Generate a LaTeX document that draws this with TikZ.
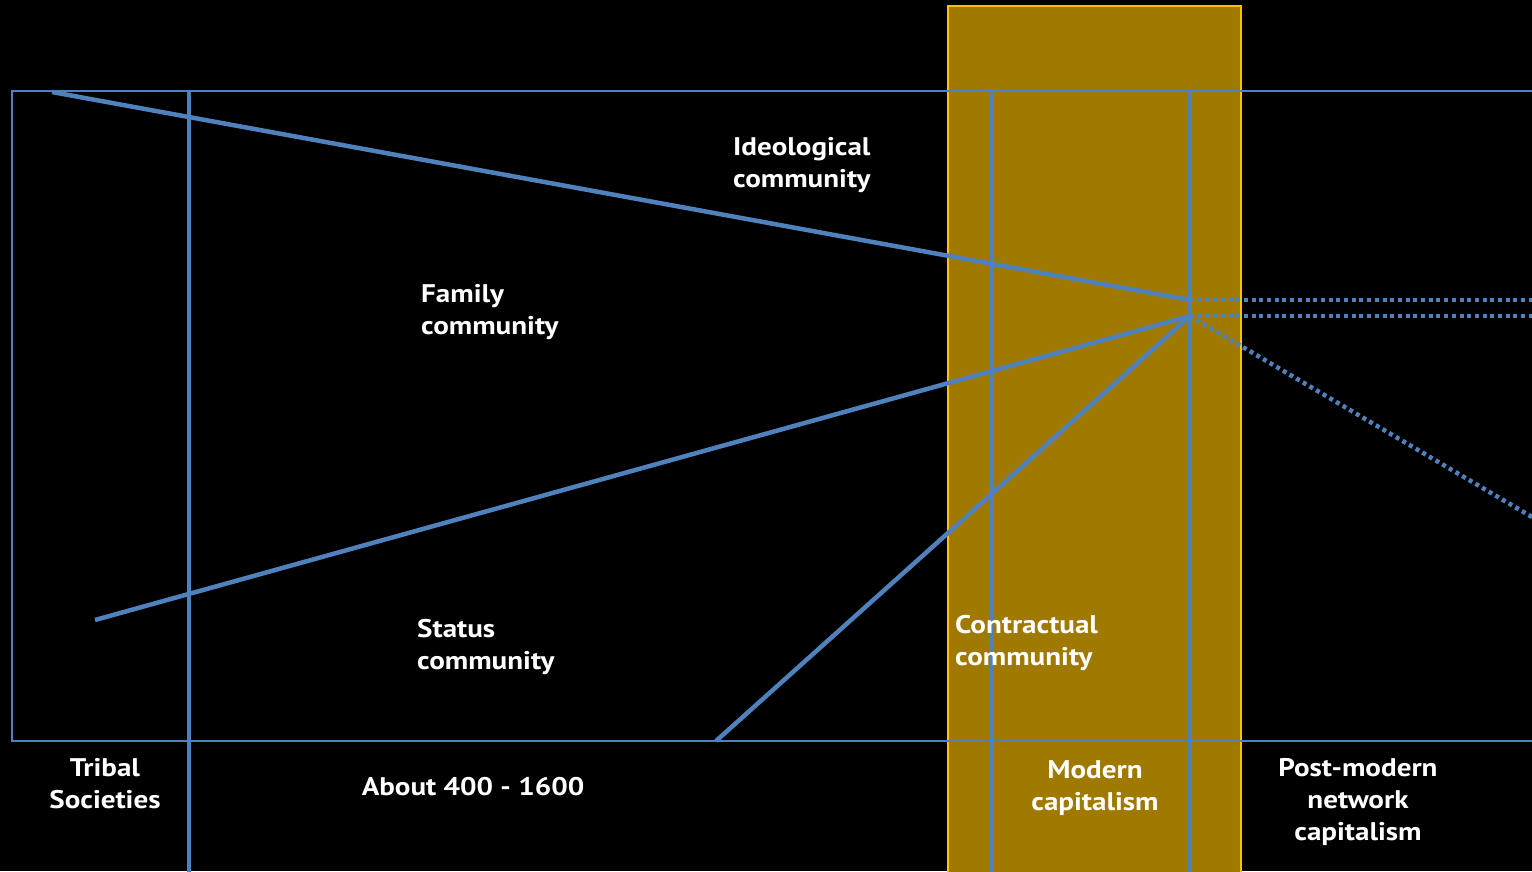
\documentclass[tikz,border=0pt]{standalone}
\usepackage{fontspec}
\setmainfont{PT Sans}[FakeStretch=1.14]
\usepackage{xcolor}
\usetikzlibrary{positioning,calc,backgrounds}
\definecolor{lineblue}{RGB}{79,129,189}
\definecolor{eraochre}{RGB}{160,122,0}
\definecolor{eragold}{RGB}{255,192,0}
\begin{document}
\begin{tikzpicture}[x=1pt,y=-1pt]
\tikzset{thin line/.style={draw=lineblue,line width=1.5pt},
  thick line/.style={draw=lineblue,line width=4.5pt},
  dot line/.style={draw=lineblue,line width=4.5pt,dash pattern=on 4pt off 3.7pt},
  label/.style={text=white,font=\bfseries\fontsize{25.5}{32}\selectfont,inner sep=0pt,align=left},
  era/.style={label,align=center}}
\clip (0,0) rectangle (1532,871);
\fill[black] (0,0) rectangle (1532,871);
% modern capitalism band
\fill[eraochre] (948,6) rectangle (1241,880);
\draw[eragold,line width=1.5pt] (948,880) -- (948,6) -- (1241,6) -- (1241,880);
% frame
\draw[thin line] (1540,91) -- (12,91) -- (12,741) -- (1540,741);
% period borders
\coordinate (tribtop) at (189,91); \coordinate (tribbot) at (189,880);
\coordinate (modtop) at (992,91); \coordinate (modbot) at (992,880);
\coordinate (posttop) at (1190,91); \coordinate (postbot) at (1190,880);
\draw[thick line] (tribtop) -- (tribbot);
\draw[thick line] (modtop) -- (modbot);
\draw[thick line] (posttop) -- (postbot);
% community lines
\coordinate (ideo0) at (52,92);
\coordinate (fam0) at (95,620);
\coordinate (stat0) at (716,741);
\coordinate (meetA) at (1190,300);
\coordinate (meetB) at (1190,316);
\coordinate (outA) at (1540,300);
\coordinate (outB) at (1540,316);
\coordinate (outC) at ($(meetB)!1.05!(1532,517)$);
\draw[thick line] (ideo0) -- (meetA);
\draw[thick line] (fam0) -- (meetB);
\draw[thick line] (stat0) -- (meetB);
\draw[dot line] (meetA) -- (outA);
\draw[dot line] (meetB) -- (outB);
\draw[dot line] (meetB) -- (outC);
%\node at (600,450) {x};
\node[label,anchor=west] (ideo) at (733,165) {Ideological\\community};
\node[label,anchor=west] (fam) at (421,312) {Family\\community};
\node[label,anchor=west] (stat) at (417,647) {Status\\community};
\node[label,anchor=west] (contr) at (955,643) {Contractual\\community};
\node[era] (tribal) at (105,784) {Tribal\\Societies};
\node[era] (middle) at (473,787) {About 400 - 1600};
\node[era] (modern) at (1095,788) {Modern\\capitalism};
\node[era] (postmod) at (1358,802) {Post-modern\\network\\capitalism};
\end{tikzpicture}
\end{document}
